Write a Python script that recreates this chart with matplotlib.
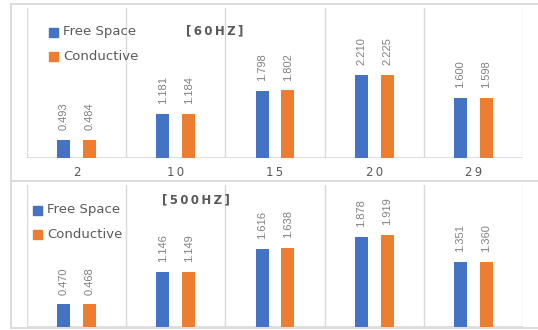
import matplotlib
matplotlib.use("Agg")
import matplotlib.pyplot as plt
from matplotlib.patches import Rectangle
from matplotlib.lines import Line2D
import numpy as np

# Data
categories = ["2", "10", "15", "20", "29"]
free_60 = [0.493, 1.181, 1.798, 2.210, 1.600]
cond_60 = [0.484, 1.184, 1.802, 2.225, 1.598]
free_500 = [0.470, 1.146, 1.616, 1.878, 1.351]
cond_500 = [0.468, 1.149, 1.638, 1.919, 1.360]
series_names = ["Free Space", "Conductive"]
titles = ["[60HZ]", "[500HZ]"]

BLUE = "#4472C4"
ORANGE = "#ED7D31"
GRID = "#D9D9D9"
TEXT = "#595959"
LABEL = "#808080"

W, H = 538, 330
fig = plt.figure(figsize=(W / 100, H / 100), dpi=100)


def fx(px):
    return px / W


def fy(py):
    return 1 - py / H


def add_axes_px(left, top, right, bottom):
    return fig.add_axes([fx(left), fy(bottom), fx(right - left), (bottom - top) / H])


def spaced(s, gap="\u2009"):
    return gap.join(s)


def draw_panel(ax, free, cond, ymax, title, title_xy, legend_xy, tick_offset_px):
    x = np.arange(len(categories))
    w = 0.13
    ax.bar(x - w, free, width=w, color=BLUE, zorder=3)
    ax.bar(x + w, cond, width=w, color=ORANGE, zorder=3)
    for xs, vals in ((x - w, free), (x + w, cond)):
        for xi, v in zip(xs, vals):
            ax.annotate(f"{v:.3f}", (xi, v), xytext=(0, 7), textcoords="offset points",
                        rotation=90, ha="center", va="bottom", fontsize=8,
                        family="Liberation Sans", color=LABEL)
    ax.set_xlim(-0.5, len(categories) - 0.5)
    ax.set_ylim(0, ymax)
    for b in np.arange(-0.5, len(categories), 1.0):
        ax.axvline(b, color=GRID, lw=1.0, zorder=1)
    ax.axhline(0, color=GRID, lw=1.2, zorder=2)
    for s in ax.spines.values():
        s.set_visible(False)
    ax.set_xticks([])
    ax.set_yticks([])
    ax.patch.set_alpha(0)
    if tick_offset_px is not None:
        for xi, c in zip(x, categories):
            ax.annotate(spaced(c, "\u200a\u200a"), (xi, 0), xycoords=("data", "axes fraction"),
                        xytext=(0, -tick_offset_px * 0.72), textcoords="offset points",
                        ha="center", va="center", fontsize=8.5, color=TEXT)
    # title
    fig.text(fx(title_xy[0]), fy(title_xy[1]), spaced(title), ha="center", va="center",
             fontsize=8.5, fontweight="bold", color=TEXT)
    # legend
    lx, ly = legend_xy
    for i, (name, col) in enumerate(zip(series_names, (BLUE, ORANGE))):
        cy = ly + i * 24
        fig.patches.append(Rectangle((fx(lx), fy(cy + 4.5)), fx(9), 9 / H,
                                     transform=fig.transFigure, color=col))
        fig.text(fx(lx + 14), fy(cy), name, ha="left", va="center",
                 fontsize=9.5, color=TEXT)


ax1 = add_axes_px(27, 8, 523, 158)
draw_panel(ax1, free_60, cond_60, 4.0, titles[0], (215, 31), (49, 32), 14)

ax2 = add_axes_px(27, 185, 523, 327)
draw_panel(ax2, free_500, cond_500, 2.95, titles[1], (196, 200), (33, 210), None)

# chart frames
frame_kw = dict(color=GRID, lw=1.3, transform=fig.transFigure)
fig.lines.append(Line2D([fx(11), fx(11)], [fy(4), fy(328)], **frame_kw))
fig.lines.append(Line2D([fx(11), 1], [fy(4), fy(4)], **frame_kw))
fig.lines.append(Line2D([fx(11), 1], [fy(181), fy(181)], **frame_kw))
fig.lines.append(Line2D([fx(11), 1], [fy(328), fy(328)], **frame_kw))

fig.savefig("out.png", dpi=100)
